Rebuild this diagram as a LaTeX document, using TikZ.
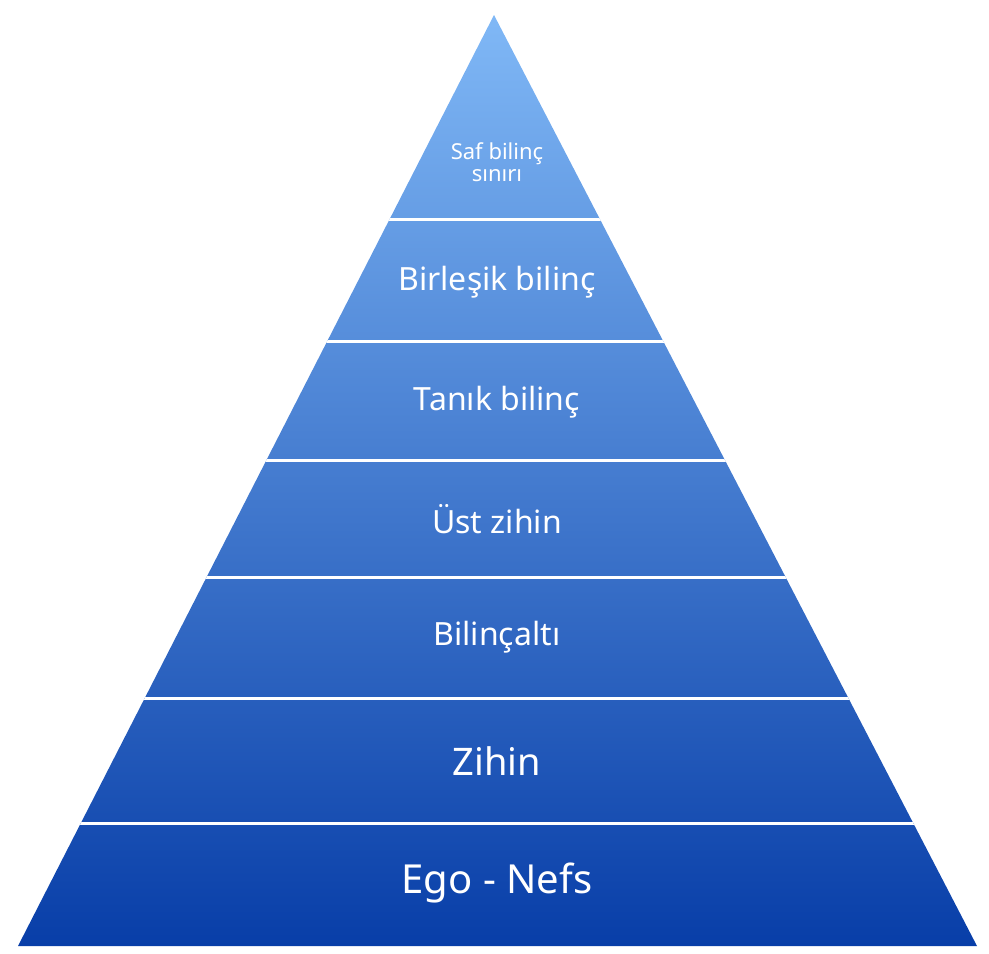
\documentclass[tikz,border=0pt]{standalone}
\usepackage{fontspec}
\setmainfont{Noto Sans}
\usetikzlibrary{positioning}
\definecolor{topblue}{RGB}{128,184,246}
\definecolor{botblue}{RGB}{8,62,168}
\tikzset{
  level/.style={text=white, align=center, font=\fontsize{#1}{#1}\selectfont},
  sep/.style={white, line width=3pt}
}
\begin{document}
\begin{tikzpicture}[x=1pt, y=-1pt]
    \useasboundingbox (0,0) rectangle (989,954);
    % Pyramid corners
    \coordinate (apex) at (494,15);
    \coordinate (bl) at (18,946);
    \coordinate (br) at (977,946);

    % Body
    \begin{scope}
        \clip (apex) -- (br) -- (bl) -- cycle;
        \shade[top color=topblue, bottom color=botblue] (0,15) rectangle (989,946);
        % Separators
        \foreach \y in {219,341,460,577,698,823}
            \draw[sep] (0,\y) -- (989,\y);
    \end{scope}

    % Text
    \node[level=22] (pure) at (497,162) {Saf bilinç\\sınırı};
    \node[level=32] (unified) at (497,282) {Birleşik bilinç};
    \node[level=32] (witness) at (497,402) {Tanık bilinç};
    \node[level=32] (upper) at (497,519) {Üst zihin};
    \node[level=32] (subcon) at (497,637) {Bilinçaltı};
    \node[level=38] (mind) at (497,761) {Zihin};
    \node[level=40] (ego) at (497,883) {Ego - Nefs};
\end{tikzpicture}
\end{document}
